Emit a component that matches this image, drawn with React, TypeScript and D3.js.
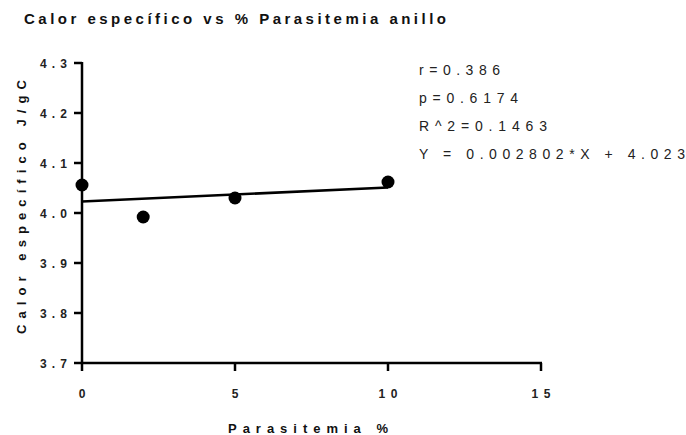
import React from "react";
import * as d3 from "d3";

const xValues = [0, 2, 5, 10];
const yValues = [4.056, 3.992, 4.03, 4.062];
const slope = 0.002802;
const intercept = 4.023;
const fitRange = [0, 10];
const xTicks = [0, 5, 10, 15];
const yTicks = [3.7, 3.8, 3.9, 4.0, 4.1, 4.2, 4.3];
const statsLines = ["r=0.386", "p=0.6174", "R^2=0.1463", "Y = 0.002802*X + 4.023"];
const statsWidths = [81, 99, 128, 266];

export default function App() {
  const W = 686, H = 435;
  const x = d3.scaleLinear().domain([0, 15]).range([82, 541]);
  const y = d3.scaleLinear().domain([3.7, 4.3]).range([363, 63]);
  const font = "Liberation Sans, Arial, sans-serif";
  const line = d3.line<number>().x(d => x(d)).y(d => y(slope * d + intercept));
  return (
    <svg width={W} height={H} style={{ position: "absolute", left: 0, top: 0 }} fontFamily={font}>
      <rect width={W} height={H} fill="#fff" />
      <text x={24} y={24} fontSize={15} fontWeight="bold" textLength={422} lengthAdjust="spacing" fill="#111">
        Calor específico vs % Parasitemia anillo
      </text>
      <line x1={x(0)} x2={x(0)} y1={y(4.3) - 1} y2={y(3.7) + 1} stroke="#000" strokeWidth={2.5} />
      <line x1={x(0) - 1} x2={x(15) + 1} y1={y(3.7)} y2={y(3.7)} stroke="#000" strokeWidth={2.5} />
      {yTicks.map(t => (
        <g key={"y" + t}>
          <line x1={x(0) - 8} x2={x(0)} y1={y(t)} y2={y(t)} stroke="#000" strokeWidth={2.5} />
          <text x={67} y={y(t) + 4.5} fontSize={12} fontWeight="bold" textAnchor="end" textLength={27} lengthAdjust="spacing" fill="#222">
            {t.toFixed(1)}
          </text>
        </g>
      ))}
      {xTicks.map(t => (
        <g key={"x" + t}>
          <line x1={x(t)} x2={x(t)} y1={y(3.7)} y2={y(3.7) + 8} stroke="#000" strokeWidth={2.5} />
          {t >= 10 ? (
            <text x={x(t)} y={398} fontSize={12} fontWeight="bold" textAnchor="middle" textLength={19} lengthAdjust="spacing" fill="#222">
              {t}
            </text>
          ) : (
            <text x={x(t)} y={398} fontSize={12} fontWeight="bold" textAnchor="middle" fill="#222">
              {t}
            </text>
          )}
        </g>
      ))}
      <text x={228} y={433} fontSize={13} fontWeight="bold" textLength={160} lengthAdjust="spacing" fill="#111">
        Parasitemia %
      </text>
      <text transform="translate(26,334) rotate(-90)" x={0} y={0} fontSize={13} fontWeight="bold" textLength={254} lengthAdjust="spacing" fill="#111">
        Calor específico J/gC
      </text>
      <path d={line(fitRange) || ""} stroke="#000" strokeWidth={2.5} fill="none" />
      {xValues.map((v, i) => (
        <circle key={i} cx={x(v)} cy={y(yValues[i])} r={6.5} fill="#000" />
      ))}
      {statsLines.map((s, i) => (
        <text key={i} x={419} y={75 + i * 28} fontSize={14} textLength={statsWidths[i]} lengthAdjust="spacing" fill="#222">
          {s}
        </text>
      ))}
    </svg>
  );
}
